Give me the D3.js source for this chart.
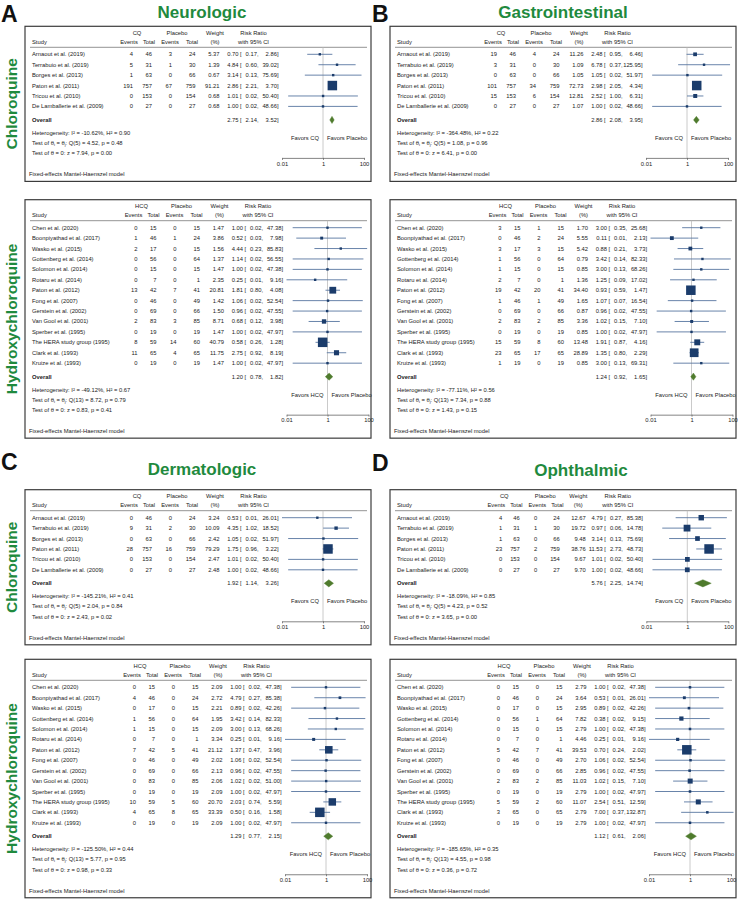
<!DOCTYPE html>
<html><head><meta charset="utf-8">
<script src="https://cdn.jsdelivr.net/npm/d3@7"></script>
<style>body{margin:0;background:#fff}</style>
</head><body><svg id="c" width="738" height="900"></svg>
<script>
// ---------------- DATA ----------------
const studiesCQ = ["Arnaout et al. (2019)","Terrabuio et al. (2019)","Borges et al. (2013)","Paton et al. (2011)","Tricou et al. (2010)","De Lamballerie et al. (2009)"];
const totalCQ = [46,31,63,757,153,27];
const totalCQPlacebo = [24,30,66,759,154,27];
const studiesHCQ = ["Chen et al. (2020)","Boonpiyathad et al. (2017)","Wasko et al. (2015)","Gottenberg et al. (2014)","Solomon et al. (2014)","Rotaru et al. (2014)","Paton et al. (2012)","Fong et al. (2007)","Gerstein et al. (2002)","Van Gool et al. (2001)","Sperber et al. (1995)","The HERA study group (1995)","Clark et al. (1993)","Kruize et al. (1993)"];
const totalHCQ = [15,46,17,56,15,7,42,46,69,83,19,59,65,19];
const totalHCQPlacebo = [15,24,15,64,15,1,41,49,66,85,19,60,65,19];
const axisTicks = [0.01, 1, 100];
const axisTickLabels = ["0.01", "1", "100"];

// A Neurologic
const neuroCQEvents = [4,5,1,191,0,0];
const neuroCQPlaceboEvents = [3,1,0,67,0,0];
const neuroCQWeight = [5.37,1.39,0.67,91.21,0.68,0.68];
const neuroCQRR = [0.70,4.84,3.14,2.86,1.01,1.00];
const neuroCQLo = [0.17,0.60,0.13,2.21,0.02,0.02];
const neuroCQHi = [2.86,39.02,75.69,3.70,50.40,48.66];
const neuroCQOverall = [2.75,2.14,3.52];
const neuroCQStats = ["-10.62%","0.90","5","4.52","0.48","7.94","0.00"];
const neuroHCQEvents = [0,1,2,0,0,0,13,0,0,2,0,8,11,0];
const neuroHCQPlaceboEvents = [0,1,0,0,0,0,7,0,0,3,0,14,4,0];
const neuroHCQWeight = [1.47,3.86,1.56,1.37,1.47,2.35,20.81,1.42,1.50,8.71,1.47,40.79,11.75,1.47];
const neuroHCQRR = [1.00,0.52,4.44,1.14,1.00,0.25,1.81,1.06,0.96,0.68,1.00,0.58,2.75,1.00];
const neuroHCQLo = [0.02,0.03,0.23,0.02,0.02,0.01,0.80,0.02,0.02,0.12,0.02,0.26,0.92,0.02];
const neuroHCQHi = [47.38,7.98,85.83,56.55,47.38,9.16,4.08,52.54,47.55,3.98,47.97,1.28,8.19,47.97];
const neuroHCQOverall = [1.20,0.78,1.82];
const neuroHCQStats = ["-49.12%","0.67","13","8.72","0.79","0.83","0.41"];

// B Gastrointestinal
const giCQEvents = [19,3,0,101,15,0];
const giCQPlaceboEvents = [4,0,0,34,6,0];
const giCQWeight = [11.26,1.09,1.05,72.73,12.81,1.07];
const giCQRR = [2.48,6.78,1.05,2.98,2.52,1.00];
const giCQLo = [0.95,0.37,0.02,2.05,1.00,0.02];
const giCQHi = [6.46,125.95,51.97,4.34,6.31,48.66];
const giCQOverall = [2.86,2.08,3.95];
const giCQStats = ["-364.48%","0.22","5","1.08","0.96","6.41","0.00"];
const giHCQEvents = [3,0,3,1,1,2,19,1,0,2,0,15,23,1];
const giHCQPlaceboEvents = [1,2,3,0,0,0,20,1,0,2,0,8,17,0];
const giHCQWeight = [1.70,5.55,5.42,0.79,0.85,1.36,34.40,1.65,0.87,3.36,0.85,13.48,28.89,0.85];
const giHCQRR = [3.00,0.11,0.88,3.42,3.00,1.25,0.93,1.07,0.96,1.02,1.00,1.91,1.35,3.00];
const giHCQLo = [0.35,0.01,0.21,0.14,0.13,0.09,0.59,0.07,0.02,0.15,0.02,0.87,0.80,0.13];
const giHCQHi = [25.68,2.13,3.73,82.33,68.26,17.02,1.47,16.54,47.55,7.10,47.97,4.16,2.29,69.31];
const giHCQOverall = [1.24,0.92,1.65];
const giHCQStats = ["-77.11%","0.56","13","7.34","0.88","1.43","0.15"];

// C Dermatologic
const dermCQEvents = [0,9,0,28,0,0];
const dermCQPlaceboEvents = [0,2,0,16,0,0];
const dermCQWeight = [3.24,10.09,2.42,79.29,2.47,2.48];
const dermCQRR = [0.53,4.35,1.05,1.75,1.01,1.00];
const dermCQLo = [0.01,1.02,0.02,0.96,0.02,0.02];
const dermCQHi = [26.01,18.52,51.97,3.22,50.40,48.66];
const dermCQOverall = [1.92,1.14,3.26];
const dermCQStats = ["-145.21%","0.41","5","2.04","0.84","2.43","0.02"];
const dermHCQEvents = [0,4,0,1,1,0,7,0,0,0,0,10,4,0];
const dermHCQPlaceboEvents = [0,0,0,0,0,0,5,0,0,0,0,5,8,0];
const dermHCQWeight = [2.09,2.72,2.21,1.95,2.09,3.34,21.12,2.02,2.13,2.06,2.09,20.70,33.39,2.09];
const dermHCQRR = [1.00,4.79,0.89,3.42,3.00,0.25,1.37,1.06,0.96,1.02,1.00,2.03,0.50,1.00];
const dermHCQLo = [0.02,0.27,0.02,0.14,0.13,0.01,0.47,0.02,0.02,0.02,0.02,0.74,0.16,0.02];
const dermHCQHi = [47.38,85.38,42.26,82.33,68.26,9.16,3.96,52.54,47.55,51.00,47.97,5.59,1.58,47.97];
const dermHCQOverall = [1.29,0.77,2.15];
const dermHCQStats = ["-125.50%","0.44","13","5.77","0.95","0.98","0.33"];

// D Ophthalmic
const ophCQEvents = [4,1,1,23,0,0];
const ophCQPlaceboEvents = [0,1,0,2,0,0];
const ophCQWeight = [12.67,19.72,9.48,38.76,9.67,9.70];
const ophCQRR = [4.79,0.97,3.14,11.53,1.01,1.00];
const ophCQLo = [0.27,0.06,0.13,2.73,0.02,0.02];
const ophCQHi = [85.38,14.78,75.69,48.73,50.40,48.66];
const ophCQOverall = [5.76,2.25,14.74];
const ophCQStats = ["-18.09%","0.85","5","4.23","0.52","3.65","0.00"];
const ophHCQEvents = [0,0,0,0,0,0,5,0,0,2,0,5,3,0];
const ophHCQPlaceboEvents = [0,0,0,1,0,0,7,0,0,2,0,2,0,0];
const ophHCQWeight = [2.79,3.64,2.95,7.82,2.79,4.46,39.53,2.70,2.85,11.03,2.79,11.07,2.79,2.79];
const ophHCQRR = [1.00,0.53,0.89,0.38,1.00,0.25,0.70,1.06,0.96,1.02,1.00,2.54,7.00,1.00];
const ophHCQLo = [0.02,0.01,0.02,0.02,0.02,0.01,0.24,0.02,0.02,0.15,0.02,0.51,0.37,0.02];
const ophHCQHi = [47.38,26.01,42.26,9.15,47.38,9.16,2.02,52.54,47.55,7.10,47.97,12.59,132.87,47.97];
const ophHCQOverall = [1.12,0.61,2.06];
const ophHCQStats = ["-185.65%","0.35","13","4.55","0.98","0.36","0.72"];

// ---------------- DRAW ----------------
const svg = d3.select('#c');
const FONT = "'Liberation Sans', Arial, Helvetica, sans-serif";
const FS = 5.8;
const STEP = 10.42;
const BOXW = 346;
const GREEN = "#1f8a3e";
const TXT = "#222";
const COLS = {ev1:-190, tot1:-171, ev2:-151, tot2:-127.5, wt:-103.5,
  hEv1:-194, hTot1:-174, hEv2:-153, hTot2:-131, hWt:-108, hGrp1:-186, hGrp2:-146};
const COLS_D = {ev1:-185, tot1:-167.5, ev2:-150, tot2:-127.5, wt:-101.5,
  hEv1:-191, hTot1:-171, hEv2:-150, hTot2:-130, hWt:-109, hGrp1:-183, hGrp2:-142};

function t(g, x, y, s, anchor, opts) {
  opts = opts || {};
  return g.append('text').attr('x', x).attr('y', y)
    .attr('font-family', FONT).attr('font-size', opts.fs || FS)
    .attr('font-weight', opts.bold ? 'bold' : 'normal')
    .attr('fill', opts.fill || TXT)
    .attr('text-anchor', anchor || 'start').text(s);
}

function drawBox(c) {
  const cols = c.cols || COLS;
  const n = c.studies.length;
  const x1 = c.x1, L = c.L, R = L + BOXW;
  const last = c.r1 + (n - 1) * STEP;
  const y = d3.scalePoint().domain(c.studies).range([c.r1, last]);
  const yOv = last + 13.5, yHet = yOv + 13, yAxis = yHet + 25;
  const top = c.r1 - 28, bottom = yAxis + 23.5;
  const x = d3.scaleLog().domain([0.01, 100]).range([x1 - 41, x1 + 41]);
  const wmax = d3.max(c.wt);
  const size = d3.scaleSqrt().domain([0, wmax]).range([0, 9.5]);
  const g = svg.append('g');
  const B = 2; // baseline offset from centre

  g.append('rect').attr('x', L).attr('y', top).attr('width', BOXW).attr('height', bottom - top)
    .attr('fill', '#fff').attr('stroke', '#3c3c3c').attr('stroke-width', 1.2);

  // headers
  const h1 = c.r1 - 21.5 + B, h2 = c.r1 - 12.8 + B;
  t(g, x1 + cols.hGrp1, h1, c.drug, 'middle');
  t(g, x1 + cols.hGrp2, h1, 'Placebo', 'middle');
  t(g, x1 + cols.hWt, h1, 'Weight', 'middle');
  t(g, x1 - 69.5, h1, 'Risk Ratio', 'middle');
  t(g, L + 7, h2, 'Study');
  t(g, x1 + cols.hEv1, h2, 'Events', 'middle');
  t(g, x1 + cols.hTot1, h2, 'Total', 'middle');
  t(g, x1 + cols.hEv2, h2, 'Events', 'middle');
  t(g, x1 + cols.hTot2, h2, 'Total', 'middle');
  t(g, x1 + cols.hWt, h2, '(%)', 'middle');
  t(g, x1 - 69.5, h2, 'with 95% CI', 'middle');
  const yLine = c.r1 - 7;
  g.append('line').attr('x1', L + 5).attr('x2', R - 4).attr('y1', yLine).attr('y2', yLine)
    .attr('stroke', '#777').attr('stroke-width', 0.8);

  // null line
  g.append('line').attr('x1', x(1)).attr('x2', x(1)).attr('y1', yLine).attr('y2', yAxis)
    .attr('stroke', '#bdbdbd').attr('stroke-width', 0.8);

  const fmt = d3.format('.2f');
  function rrText(yy, est, lo, hi) {
    t(g, x1 - 84.5, yy, fmt(est), 'end');
    t(g, x1 - 83, yy, '[');
    t(g, x1 - 64.5, yy, fmt(lo) + ',', 'end');
    t(g, x1 - 44.5, yy, fmt(hi) + ']', 'end');
  }

  c.studies.forEach((s, i) => {
    const yy = y(s) + B;
    t(g, L + 7, yy, s);
    t(g, x1 + cols.ev1, yy, c.ev[i], 'end');
    t(g, x1 + cols.tot1, yy, c.tot[i], 'end');
    t(g, x1 + cols.ev2, yy, c.pev[i], 'end');
    t(g, x1 + cols.tot2, yy, c.ptot[i], 'end');
    t(g, x1 + cols.wt, yy, fmt(c.wt[i]), 'end');
    rrText(yy, c.rr[i], c.lo[i], c.hi[i]);
    g.append('line').attr('x1', x(c.lo[i])).attr('x2', x(c.hi[i]))
      .attr('y1', y(s)).attr('y2', y(s)).attr('stroke', '#5876a0').attr('stroke-width', 0.9);
    const sz = Math.max(2.4, size(c.wt[i]));
    g.append('rect').attr('x', x(c.rr[i]) - sz / 2).attr('y', y(s) - sz / 2)
      .attr('width', sz).attr('height', sz).attr('fill', '#1b3c6b');
  });

  // overall
  t(g, L + 7, yOv + B, 'Overall', 'start', {bold: true});
  rrText(yOv + B, c.ov[0], c.ov[1], c.ov[2]);
  const dh = 3.6;
  g.append('path').attr('d', `M${x(c.ov[1])},${yOv}L${x(c.ov[0])},${yOv - dh}L${x(c.ov[2])},${yOv}L${x(c.ov[0])},${yOv + dh}Z`)
    .attr('fill', '#4f7b2d').attr('stroke', '#4f7b2d').attr('stroke-width', 0.4);

  // heterogeneity and tests
  const st = c.stats;
  t(g, L + 7, yHet + B, `Heterogeneity: I² = ${st[0]}, H² = ${st[1]}`);
  const tt = t(g, L + 7, yHet + 10 + B, 'Test of θ');
  tt.append('tspan').attr('font-size', 4).attr('dy', 1).text('i');
  tt.append('tspan').attr('dy', -1).text(' = θ');
  tt.append('tspan').attr('font-size', 4).attr('dy', 1).text('j');
  tt.append('tspan').attr('dy', -1).text(`: Q(${st[2]}) = ${st[3]}, p = ${st[4]}`);
  t(g, L + 7, yHet + 20.3 + B, `Test of θ = 0: z = ${st[5]}, p = ${st[6]}`);

  // favors
  t(g, x(1) - 4, yHet + 5 + B, 'Favors ' + c.drug, 'end');
  t(g, x(1) + 4, yHet + 5 + B, 'Favors Placebo', 'start');

  // axis
  const ax = d3.axisBottom(x).tickValues(axisTicks)
    .tickFormat((d, i) => axisTickLabels[i]).tickSizeInner(2).tickSizeOuter(0).tickPadding(1.5);
  const ag = g.append('g').attr('transform', `translate(0,${yAxis})`).call(ax);
  ag.select('.domain').attr('stroke', '#666').attr('stroke-width', 0.8);
  ag.selectAll('.tick line').attr('stroke', '#666').attr('stroke-width', 0.8);
  ag.selectAll('.tick text').attr('font-family', FONT).attr('font-size', FS).attr('fill', TXT);

  t(g, L + 4, yAxis + 16.5 + B, 'Fixed-effects Mantel-Haenszel model');
  return {top, bottom};
}

function panel(p) {
  svg.append('text').attr('x', p.lx).attr('y', p.ly).attr('font-family', FONT)
    .attr('font-size', 23).attr('font-weight', 'bold').attr('fill', '#111').text(p.letter);
  svg.append('text').attr('x', p.tx).attr('y', p.ty).attr('font-family', FONT)
    .attr('font-size', 17).attr('font-weight', 'bold').attr('fill', GREEN)
    .attr('text-anchor', 'middle').text(p.title);
  const b1 = drawBox(p.cq);
  const b2 = drawBox(p.hcq);
  if (p.sideLabels) {
    [[b1, 'Chloroquine'], [b2, 'Hydroxychloroquine']].forEach(([b, s]) => {
      svg.append('text').attr('transform', `translate(17,${(b.top + b.bottom) / 2}) rotate(-90)`)
        .attr('font-family', FONT).attr('font-size', 15.5).attr('font-weight', 'bold')
        .attr('fill', GREEN).attr('text-anchor', 'middle').text(s);
    });
  }
}

function cq(L, r1, x1, ev, pev, wt, rr, lo, hi, ov, stats, cols) {
  return {L, r1, x1, drug: 'CQ', studies: studiesCQ, tot: totalCQ, ptot: totalCQPlacebo,
    ev, pev, wt, rr, lo, hi, ov, stats, cols};
}
function hcq(L, r1, x1, ev, pev, wt, rr, lo, hi, ov, stats) {
  return {L, r1, x1, drug: 'HCQ', studies: studiesHCQ, tot: totalHCQ, ptot: totalHCQPlacebo,
    ev, pev, wt, rr, lo, hi, ov, stats};
}

panel({letter: 'A', lx: 1, ly: 21.5, title: 'Neurologic', tx: 202, ty: 18, sideLabels: true,
  cq: cq(25, 54.3, 323, neuroCQEvents, neuroCQPlaceboEvents, neuroCQWeight, neuroCQRR, neuroCQLo, neuroCQHi, neuroCQOverall, neuroCQStats),
  hcq: hcq(25, 227.7, 327.5, neuroHCQEvents, neuroHCQPlaceboEvents, neuroHCQWeight, neuroHCQRR, neuroHCQLo, neuroHCQHi, neuroHCQOverall, neuroHCQStats)});
panel({letter: 'B', lx: 372, ly: 21.5, title: 'Gastrointestinal', tx: 563, ty: 18,
  cq: cq(390, 54.3, 687, giCQEvents, giCQPlaceboEvents, giCQWeight, giCQRR, giCQLo, giCQHi, giCQOverall, giCQStats),
  hcq: hcq(390, 227.7, 691.5, giHCQEvents, giHCQPlaceboEvents, giHCQWeight, giHCQRR, giHCQLo, giHCQHi, giHCQOverall, giHCQStats)});
panel({letter: 'C', lx: 1, ly: 470, title: 'Dermatologic', tx: 202, ty: 475, sideLabels: true,
  cq: cq(25, 517.7, 323, dermCQEvents, dermCQPlaceboEvents, dermCQWeight, dermCQRR, dermCQLo, dermCQHi, dermCQOverall, dermCQStats),
  hcq: hcq(25, 687.3, 326, dermHCQEvents, dermHCQPlaceboEvents, dermHCQWeight, dermHCQRR, dermHCQLo, dermHCQHi, dermHCQOverall, dermHCQStats)});
panel({letter: 'D', lx: 372, ly: 471, title: 'Ophthalmic', tx: 581, ty: 476,
  cq: cq(390, 517.7, 687.3, ophCQEvents, ophCQPlaceboEvents, ophCQWeight, ophCQRR, ophCQLo, ophCQHi, ophCQOverall, ophCQStats, COLS_D),
  hcq: hcq(390, 687.3, 690, ophHCQEvents, ophHCQPlaceboEvents, ophHCQWeight, ophHCQRR, ophHCQLo, ophHCQHi, ophHCQOverall, ophHCQStats)});
</script></body></html>
